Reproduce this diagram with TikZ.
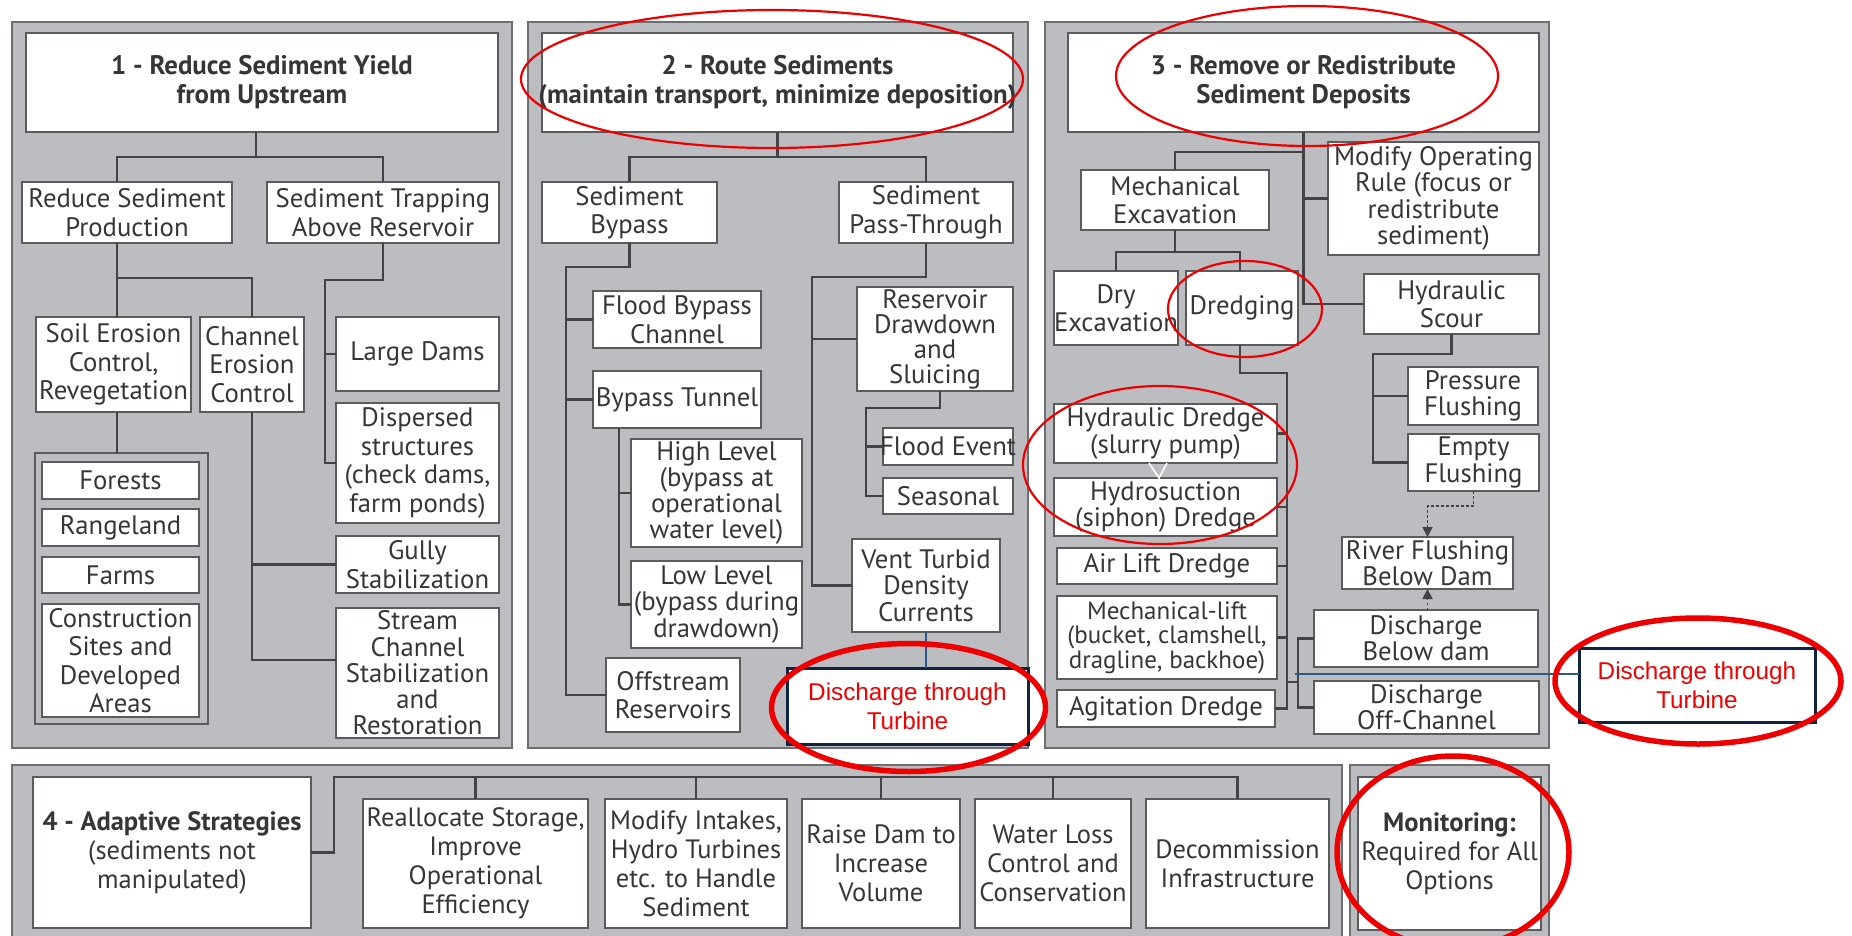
\documentclass[tikz,border=0pt]{standalone}
\usepackage{fontspec}
\setmainfont{PT Sans}
\newfontfamily\arialf{Liberation Sans}
\usetikzlibrary{arrows.meta}
\definecolor{panelgray}{HTML}{BCBDC0}
\definecolor{panelline}{HTML}{6D6E71}
\definecolor{boxline}{HTML}{5A5B5D}
\definecolor{conn}{HTML}{434345}
\definecolor{txtc}{HTML}{363636}
\definecolor{navy}{HTML}{0E2441}
\definecolor{blueln}{HTML}{2A5A8A}
\definecolor{annred}{HTML}{EE0000}
\tikzset{
 panel/.style={fill=panelgray, draw=panelline, line width=2pt, inner sep=0pt, outer sep=0pt},
 grpbox/.style={fill=panelgray, draw=boxline, line width=2pt, inner sep=0pt, outer sep=0pt},
 box/.style={fill=white, draw=boxline, line width=2pt, inner sep=0pt, outer sep=0pt},
 tbox/.style={fill=white, draw=navy, line width=3pt, inner sep=0pt, outer sep=0pt},
 txt/.style={text=txtc, align=center, inner sep=0pt, font=\fontsize{26.7}{28.5}\selectfont},
 txtt/.style={text=txtc, align=center, inner sep=0pt, font=\fontsize{26.7}{26.3}\selectfont},
 txtv/.style={text=txtc, align=center, inner sep=0pt, font=\fontsize{26.7}{25}\selectfont},
 txts/.style={text=txtc, align=center, inner sep=0pt, font=\fontsize{25}{24.5}\selectfont},
 ttl/.style={text=txtc, align=center, inner sep=0pt, font=\bfseries\fontsize{26.8}{29}\selectfont},
 rtxt/.style={text=annred, align=center, inner sep=0pt, font=\arialf\fontsize{24.3}{29}\selectfont},
 btxt/.style={text=txtc, align=center, inner sep=0pt, font=\fontsize{26.5}{29}\selectfont},
 ln/.style={draw=conn, line width=2.2pt},
 blueline/.style={draw=blueln, line width=1.3pt},
 dotarr/.style={draw=conn, line width=1.8pt, dash pattern=on 2.5pt off 2.5pt, -{Triangle[length=10pt,width=10pt]}},
 thinell/.style={draw=annred, line width=2.2pt},
 thickell/.style={draw=annred, line width=5.5pt},
}
% name, x1, y1, x2, y2, box style, text style, text
\newcommand{\bx}[8]{\node[#6, minimum width={(#4-#2)*1pt}, minimum height={(#5-#3)*1pt}, label={[#7]center:{#8}}] (#1) at ({(#2+#4)/2},{(#3+#5)/2}) {};}
\begin{document}
\begin{tikzpicture}[x=1pt,y=-1pt]
\useasboundingbox (0,0) rectangle (1852,936);
\clip (0,0) rectangle (1852,936);
\fill[white] (0,0) rectangle (1852,936);
% ---------- panels ----------
\bx{p1}{12}{22}{512}{748}{panel}{txt}{}
\bx{p2}{528}{22}{1028}{748}{panel}{txt}{}
\bx{p3}{1045}{22}{1549}{748}{panel}{txt}{}
\bx{p4}{12}{765}{1342}{960}{panel}{txt}{}
\bx{p5}{1350}{765}{1549}{960}{panel}{txt}{}
% ---------- panel 1 ----------
\bx{t1}{26}{33}{498}{132}{box}{ttl}{1 - Reduce Sediment Yield\\from Upstream}
\bx{rsp}{22}{182}{232}{243}{box}{txt}{Reduce Sediment\\Production}
\bx{star}{267}{182}{499}{243}{box}{txt}{Sediment Trapping\\Above Reservoir}
\bx{soil}{36}{317}{191}{412}{box}{txt}{Soil Erosion\\Control,\\Revegetation}
\bx{chan}{200}{317}{304}{412}{box}{txt}{Channel\\Erosion\\Control}
\bx{large}{336}{317}{499}{391}{box}{txt}{Large Dams}
\bx{disp}{336}{403}{499}{523}{box}{txt}{Dispersed\\structures\\(check dams,\\farm ponds)}
\bx{grp}{35}{453}{208}{724}{grpbox}{txt}{}
\bx{forests}{42}{462}{199}{499}{box}{txt}{Forests}
\bx{range}{42}{509}{199}{546}{box}{txt}{Rangeland}
\bx{farms}{42}{557}{199}{593}{box}{txt}{Farms}
\bx{constr}{42}{604}{199}{717}{box}{txt}{Construction\\Sites and\\Developed\\Areas}
\bx{gully}{336}{536}{499}{593}{box}{txt}{Gully\\Stabilization}
\bx{stream}{336}{608}{499}{738}{box}{txtt}{Stream\\Channel\\Stabilization\\and\\Restoration}
\draw[ln] ([xshift=-6pt]t1.south) -- ++(0,25) coordinate (j1);
\draw[ln] ([xshift=-10pt]rsp.north) |- (star.north |- j1) -- (star.north);
\draw[ln] ([xshift=-10pt]rsp.south) -- ([xshift=3.5pt]soil.north);
\coordinate (j2) at (117,278);
\draw[ln] (j2) -| (chan.north);
\draw[ln] ([xshift=3.5pt]soil.south) -- ([xshift=-4.5pt]grp.north);
\coordinate (j3) at (325,280);
\draw[ln] (star.south) |- (j3) |- (disp.west);
\draw[ln] (j3 |- large.west) -- (large.west);
\draw[ln] (chan.south) |- ([yshift=13pt]stream.west);
\draw[ln] (chan.south |- gully.west) -- (gully.west);
% ---------- panel 2 ----------
\bx{t2}{542}{33}{1013}{132}{box}{ttl}{2 - Route Sediments\\(maintain transport, minimize deposition)}
\bx{byp}{542}{182}{717}{243}{box}{txt}{Sediment\\Bypass}
\bx{pass}{839}{182}{1013}{243}{box}{txt}{Sediment\\Pass-Through}
\bx{flood}{593}{291}{761}{348}{box}{txt}{Flood Bypass\\Channel}
\bx{tunnel}{593}{371}{761}{428}{box}{txt}{Bypass Tunnel}
\bx{high}{631}{439}{802}{547}{box}{txtt}{High Level\\(bypass at\\operational\\water level)}
\bx{low}{631}{561}{802}{648}{box}{txtt}{Low Level\\(bypass during\\drawdown)}
\bx{off}{606}{658}{740}{732}{box}{txt}{Offstream\\Reservoirs}
\bx{resd}{857}{287}{1013}{391}{box}{txtv}{Reservoir\\Drawdown\\and\\Sluicing}
\bx{floodev}{883}{428}{1013}{465}{box}{txt}{Flood Event}
\bx{seas}{883}{478}{1013}{514}{box}{txt}{Seasonal}
\bx{vent}{852}{539}{1000}{632}{box}{txtt}{Vent Turbid\\Density\\Currents}
\bx{dtt1}{787}{668}{1028}{744}{tbox}{rtxt}{Discharge through\\Turbine}
\draw[ln] (t2.south) -- ++(0,25) coordinate (j4);
\draw[ln] (byp.north) |- (pass.north |- j4) -- (pass.north);
\coordinate (t5) at (566,267);
\draw[ln] (byp.south) |- (t5) |- (off.west);
\draw[ln] (t5 |- flood.west) -- (flood.west);
\draw[ln] (t5 |- tunnel.west) -- (tunnel.west);
\coordinate (t6) at ([xshift=-58pt]tunnel.south);
\draw[ln] (t6) |- (low.west);
\draw[ln] (t6 |- high.west) -- (high.west);
\coordinate (t7) at (812,277);
\draw[ln] (pass.south) |- (t7) |- (vent.west);
\draw[ln] (t7 |- resd.west) -- (resd.west);
\coordinate (t8) at ([xshift=5pt]resd.south);
\coordinate (t9) at (866,408);
\draw[ln] (t8) |- (t9) |- (seas.west);
\draw[ln] (t9 |- floodev.west) -- (floodev.west);
\draw[blueline] (vent.south) -- (vent.south |- dtt1.north);
% ---------- panel 3 ----------
\bx{t3}{1068}{33}{1539}{132}{box}{ttl}{3 - Remove or Redistribute\\Sediment Deposits}
\bx{mech}{1081}{170}{1269}{230}{box}{txt}{Mechanical\\Excavation}
\bx{modop}{1328}{142}{1539}{255}{box}{txtt}{Modify Operating\\Rule (focus or\\redistribute\\sediment)}
\bx{dry}{1054}{271}{1178}{345}{box}{txt}{Dry\\Excavation}
\bx{dredg}{1186}{271}{1298}{345}{box}{txt}{Dredging}
\bx{scour}{1364}{274}{1539}{334}{box}{txt}{Hydraulic\\Scour}
\bx{press}{1408}{367}{1538}{425}{box}{txtt}{Pressure\\Flushing}
\bx{empty}{1408}{434}{1539}{491}{box}{txtt}{Empty\\Flushing}
\bx{river}{1342}{537}{1513}{589}{box}{txtt}{River Flushing\\Below Dam}
\bx{hyd}{1054}{404}{1277}{463}{box}{txtt}{Hydraulic Dredge\\(slurry pump)}
\bx{hsuc}{1054}{478}{1277}{536}{box}{txtt}{Hydrosuction\\(siphon) Dredge}
\bx{air}{1057}{548}{1277}{584}{box}{txt}{Air Lift Dredge}
\bx{mlift}{1057}{596}{1277}{679}{box}{txts}{Mechanical-lift\\(bucket, clamshell,\\dragline, backhoe)}
\bx{agit}{1057}{690}{1275}{727}{box}{txt}{Agitation Dredge}
\bx{dbd}{1314}{610}{1538}{667}{box}{txtt}{Discharge\\Below dam}
\bx{doff}{1314}{681}{1539}{734}{box}{txtt}{Discharge\\Off-Channel}
\bx{dtt2}{1579}{648}{1815}{722}{tbox}{rtxt}{Discharge through\\Turbine}
\draw[ln] (t3.south) |- (scour.west);
\draw[ln] (t3.south |- modop.west) -- (modop.west);
\coordinate (t11) at (1304,152);
\draw[ln] (t11) -| (mech.north);
\draw[ln] (mech.south) -- ++(0,22) coordinate (t12);
\draw[ln] (dry.north) |- (t12) -| ([xshift=-2pt]dredg.north);
\coordinate (t13) at (1287,373);
\draw[ln] ([xshift=-2pt]dredg.south) |- (t13) |- (agit.east);
\draw[ln] (t13 |- hyd.east) -- (hyd.east);
\draw[ln] (t13 |- hsuc.east) -- (hsuc.east);
\draw[ln] (t13 |- air.east) -- (air.east);
\draw[ln] (t13 |- mlift.east) -- (mlift.east);
\coordinate (t14) at (1298,682);
\draw[ln] (t13 |- t14) -- (t14);
\draw[ln] (dbd.west) -| (t14) |- (doff.west);
\coordinate (t15) at (1373,354);
\draw[ln] (scour.south) |- (t15) |- (empty.west);
\draw[ln] (t15 |- press.west) -- (press.west);
\draw[dotarr] (empty.south) -- ++(0,15) -| (river.north);
\draw[dotarr] (river.south |- dbd.north) -- (river.south);
\draw[white, line width=1.6pt] (1149,463) -- (1159,478) -- (1167,463);
\coordinate (t17) at (1295,674);
\draw[blueline] (t17) -- (t17 -| dtt2.west);
% ---------- panel 4 ----------
\bx{adapt}{33}{777}{311}{928}{box}{btxt}{\textbf{4 - Adaptive Strategies}\\(sediments not\\manipulated)}
\bx{realloc}{363}{799}{588}{928}{box}{btxt}{Reallocate Storage,\\Improve\\Operational\\Efficiency}
\bx{intakes}{605}{799}{787}{928}{box}{btxt}{Modify Intakes,\\Hydro Turbines\\etc. to Handle\\Sediment}
\bx{raise}{802}{799}{960}{928}{box}{btxt}{Raise Dam to\\Increase\\Volume}
\bx{water}{975}{799}{1131}{928}{box}{btxt}{Water Loss\\Control and\\Conservation}
\bx{decom}{1146}{799}{1329}{928}{box}{btxt}{Decommission\\Infrastructure}
\bx{mon}{1358}{777}{1541}{930}{box}{btxt}{\textbf{Monitoring:}\\Required for All\\Options}
\coordinate (t18) at (334,777);
\draw[ln] (adapt.east) -| (t18) -| (decom.north);
\draw[ln] (realloc.north |- t18) -- (realloc.north);
\draw[ln] (intakes.north |- t18) -- (intakes.north);
\draw[ln] (raise.north |- t18) -- (raise.north);
\draw[ln] (water.north |- t18) -- (water.north);
% ---------- red annotations ----------
\draw[thinell] (772,79) ellipse [x radius=251pt, y radius=69pt];
\draw[thinell] (1307,76) ellipse [x radius=191pt, y radius=70pt];
\draw[thinell] (1245,309) ellipse [x radius=77pt, y radius=48pt];
\draw[thinell] (1160,465) ellipse [x radius=137pt, y radius=79pt];
\draw[thickell] (908.5,707.5) ellipse [x radius=137pt, y radius=64pt];
\draw[thickell] (1698,681) ellipse [x radius=143pt, y radius=63pt];
\draw[thickell] (1453,852) ellipse [x radius=116pt, y radius=96pt];
\end{tikzpicture}
\end{document}
